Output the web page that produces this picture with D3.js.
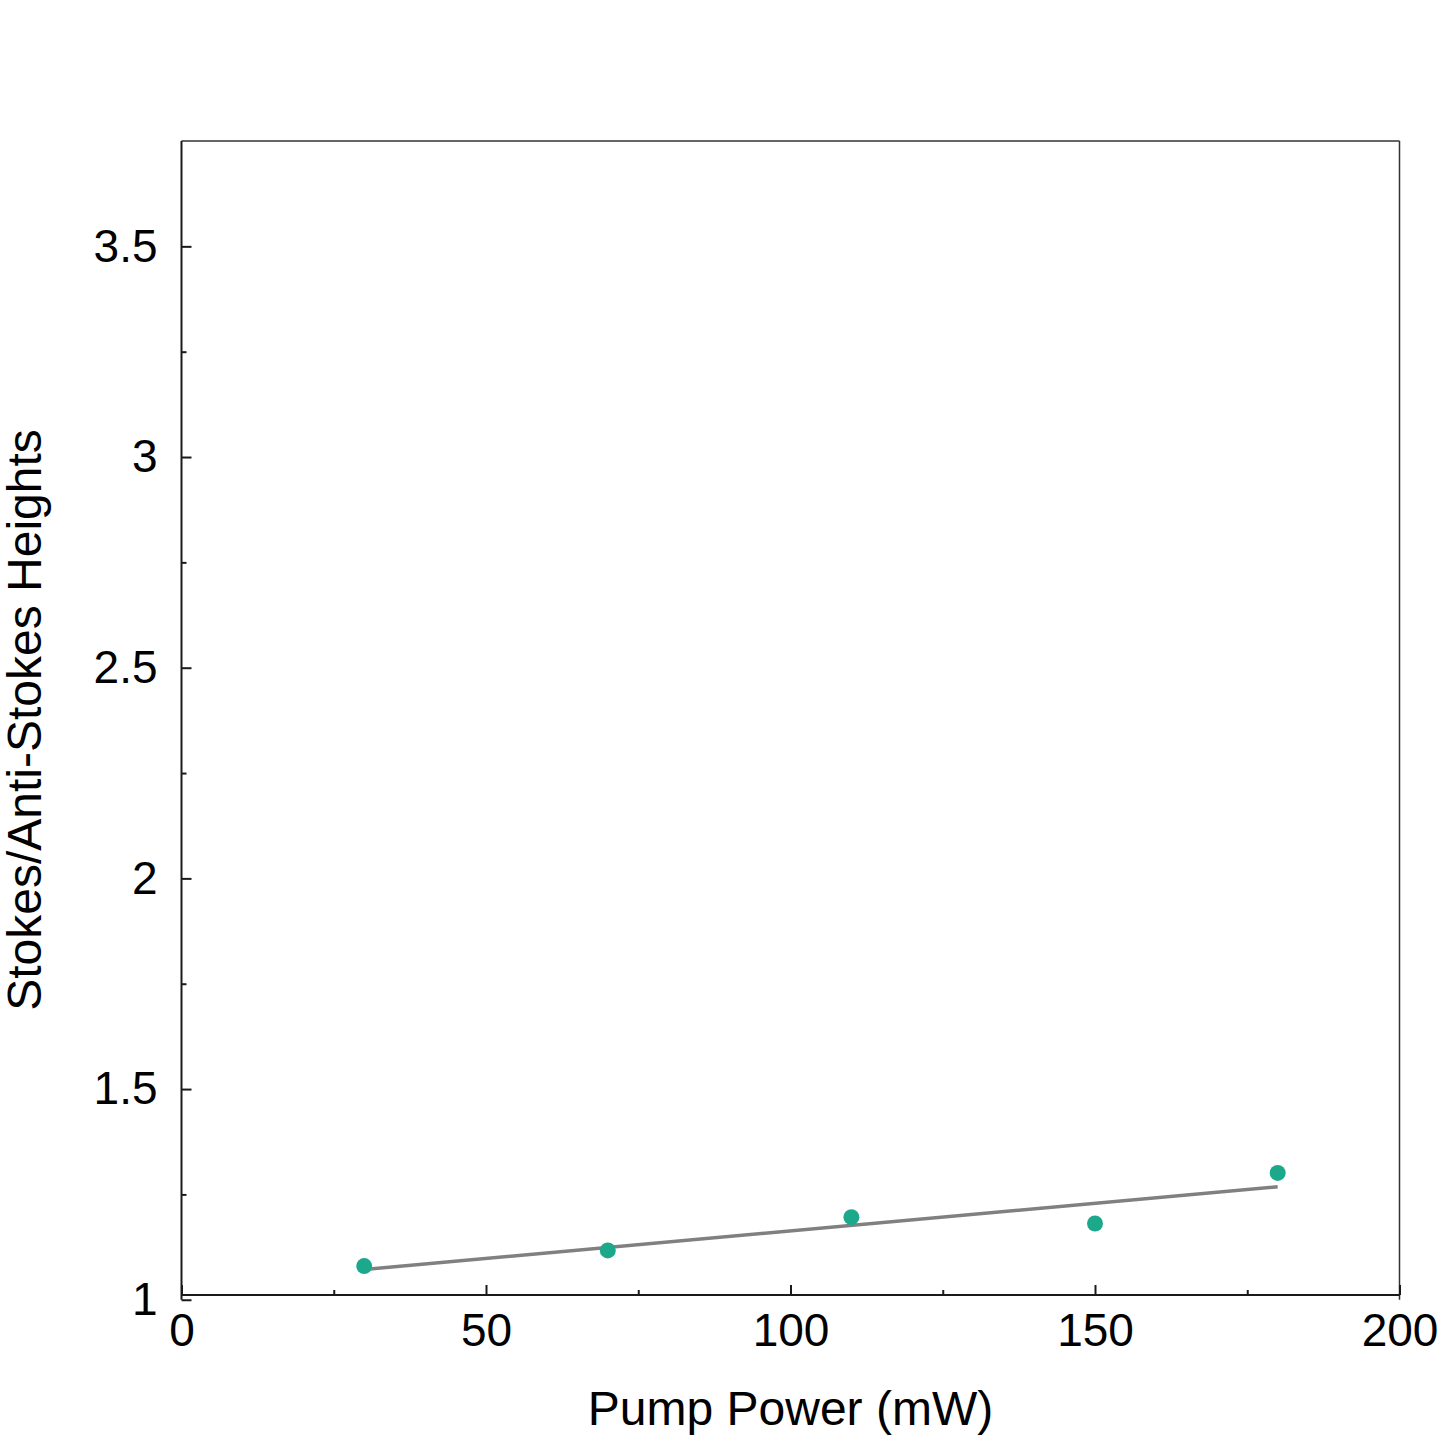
<!DOCTYPE html>
<html>
<head>
<meta charset="utf-8">
<script src="https://cdn.jsdelivr.net/npm/d3@7"></script>
<style>
  body { margin: 0; background: #fff; }
  text { font-family: "Liberation Sans", Arial, sans-serif; }
</style>
</head>
<body>
<div id="chart"></div>
<script>
// data
var pumpPower = [30, 70, 110, 150, 180];
var ratio = [1.080, 1.117, 1.196, 1.181, 1.301];

// linear fit line (ends)
var fitPower = [30, 180];
var fitRatio = [1.072, 1.268];

var xMajor = [0, 50, 100, 150, 200];
var xMinor = [25, 75, 125, 175];
var yMajor = [1, 1.5, 2, 2.5, 3, 3.5];
var yMinor = [1.25, 1.75, 2.25, 2.75, 3.25];

// layout
var W = 1440, H = 1440;
var plotLeft = 181.5, plotRight = 1399.5, plotTop = 141, plotBottom = 1295;
var font_tick = 46, font_label = 48;
var axisColor = '#1a1a1a';

var svg = d3.select('#chart')
    .append('svg')
        .attr('width', W)
        .attr('height', H);

var x = d3.scaleLinear().domain([0, 200]).range([plotLeft, plotRight]);
var y = d3.scaleLinear().domain([1, 3.75]).range([1299.75, plotTop]);

// frame
svg.append('line')
    .attr('x1', plotLeft).attr('x2', plotRight)
    .attr('y1', plotTop).attr('y2', plotTop)
    .attr('stroke', '#333').attr('stroke-width', 1.5);
svg.append('line')
    .attr('x1', plotRight).attr('x2', plotRight)
    .attr('y1', plotTop).attr('y2', y(1))
    .attr('stroke', '#333').attr('stroke-width', 1.5);
svg.append('line')
    .attr('x1', plotLeft).attr('x2', plotLeft)
    .attr('y1', plotTop).attr('y2', y(1))
    .attr('stroke', axisColor).attr('stroke-width', 2);
svg.append('line')
    .attr('x1', plotLeft).attr('x2', plotRight)
    .attr('y1', plotBottom).attr('y2', plotBottom)
    .attr('stroke', axisColor).attr('stroke-width', 2);

// x axis
svg.append('g')
    .attr('transform', 'translate(0,' + plotBottom + ')')
    .style('font-size', font_tick)
    .call(d3.axisBottom(x).tickValues(xMajor).tickSize(-10).tickPadding(18).tickFormat(d3.format('d')));
svg.append('g')
    .attr('transform', 'translate(0,' + plotBottom + ')')
    .call(d3.axisBottom(x).tickValues(xMinor).tickSize(-5).tickFormat(''));

// y axis
svg.append('g')
    .attr('transform', 'translate(' + plotLeft + ',0)')
    .style('font-size', font_tick)
    .call(d3.axisLeft(y).tickValues(yMajor).tickSize(-10).tickPadding(24).tickFormat(d3.format('')));
svg.append('g')
    .attr('transform', 'translate(' + plotLeft + ',0)')
    .call(d3.axisLeft(y).tickValues(yMinor).tickSize(-5).tickFormat(''));

svg.selectAll('.domain').remove();
svg.selectAll('.tick line').attr('stroke', axisColor).attr('stroke-width', 2);
svg.selectAll('.tick text')
    .attr('fill', '#000')
    .style('font-family', '"Liberation Sans", Arial, sans-serif');

// axis labels
svg.append('text')
    .attr('x', (plotLeft + plotRight) / 2)
    .attr('y', 1425)
    .attr('text-anchor', 'middle')
    .attr('font-size', font_label)
    .text('Pump Power (mW)');

svg.append('text')
    .attr('transform', 'translate(41,720) rotate(-90)')
    .attr('text-anchor', 'middle')
    .attr('font-size', font_label)
    .text('Stokes/Anti-Stokes Heights');

// fit line
svg.append('path')
    .datum(d3.zip(fitPower, fitRatio))
    .attr('fill', 'none')
    .attr('stroke', '#808080')
    .attr('stroke-width', 3.5)
    .attr('d', d3.line()
        .x(function(d) { return x(d[0]); })
        .y(function(d) { return y(d[1]); })
    );

// data points
svg.selectAll('.pt')
    .data(d3.zip(pumpPower, ratio))
    .enter()
    .append('circle')
        .attr('class', 'pt')
        .attr('cx', function(d) { return x(d[0]); })
        .attr('cy', function(d) { return y(d[1]); })
        .attr('r', 8)
        .attr('fill', '#1ca98b');
</script>
</body>
</html>
